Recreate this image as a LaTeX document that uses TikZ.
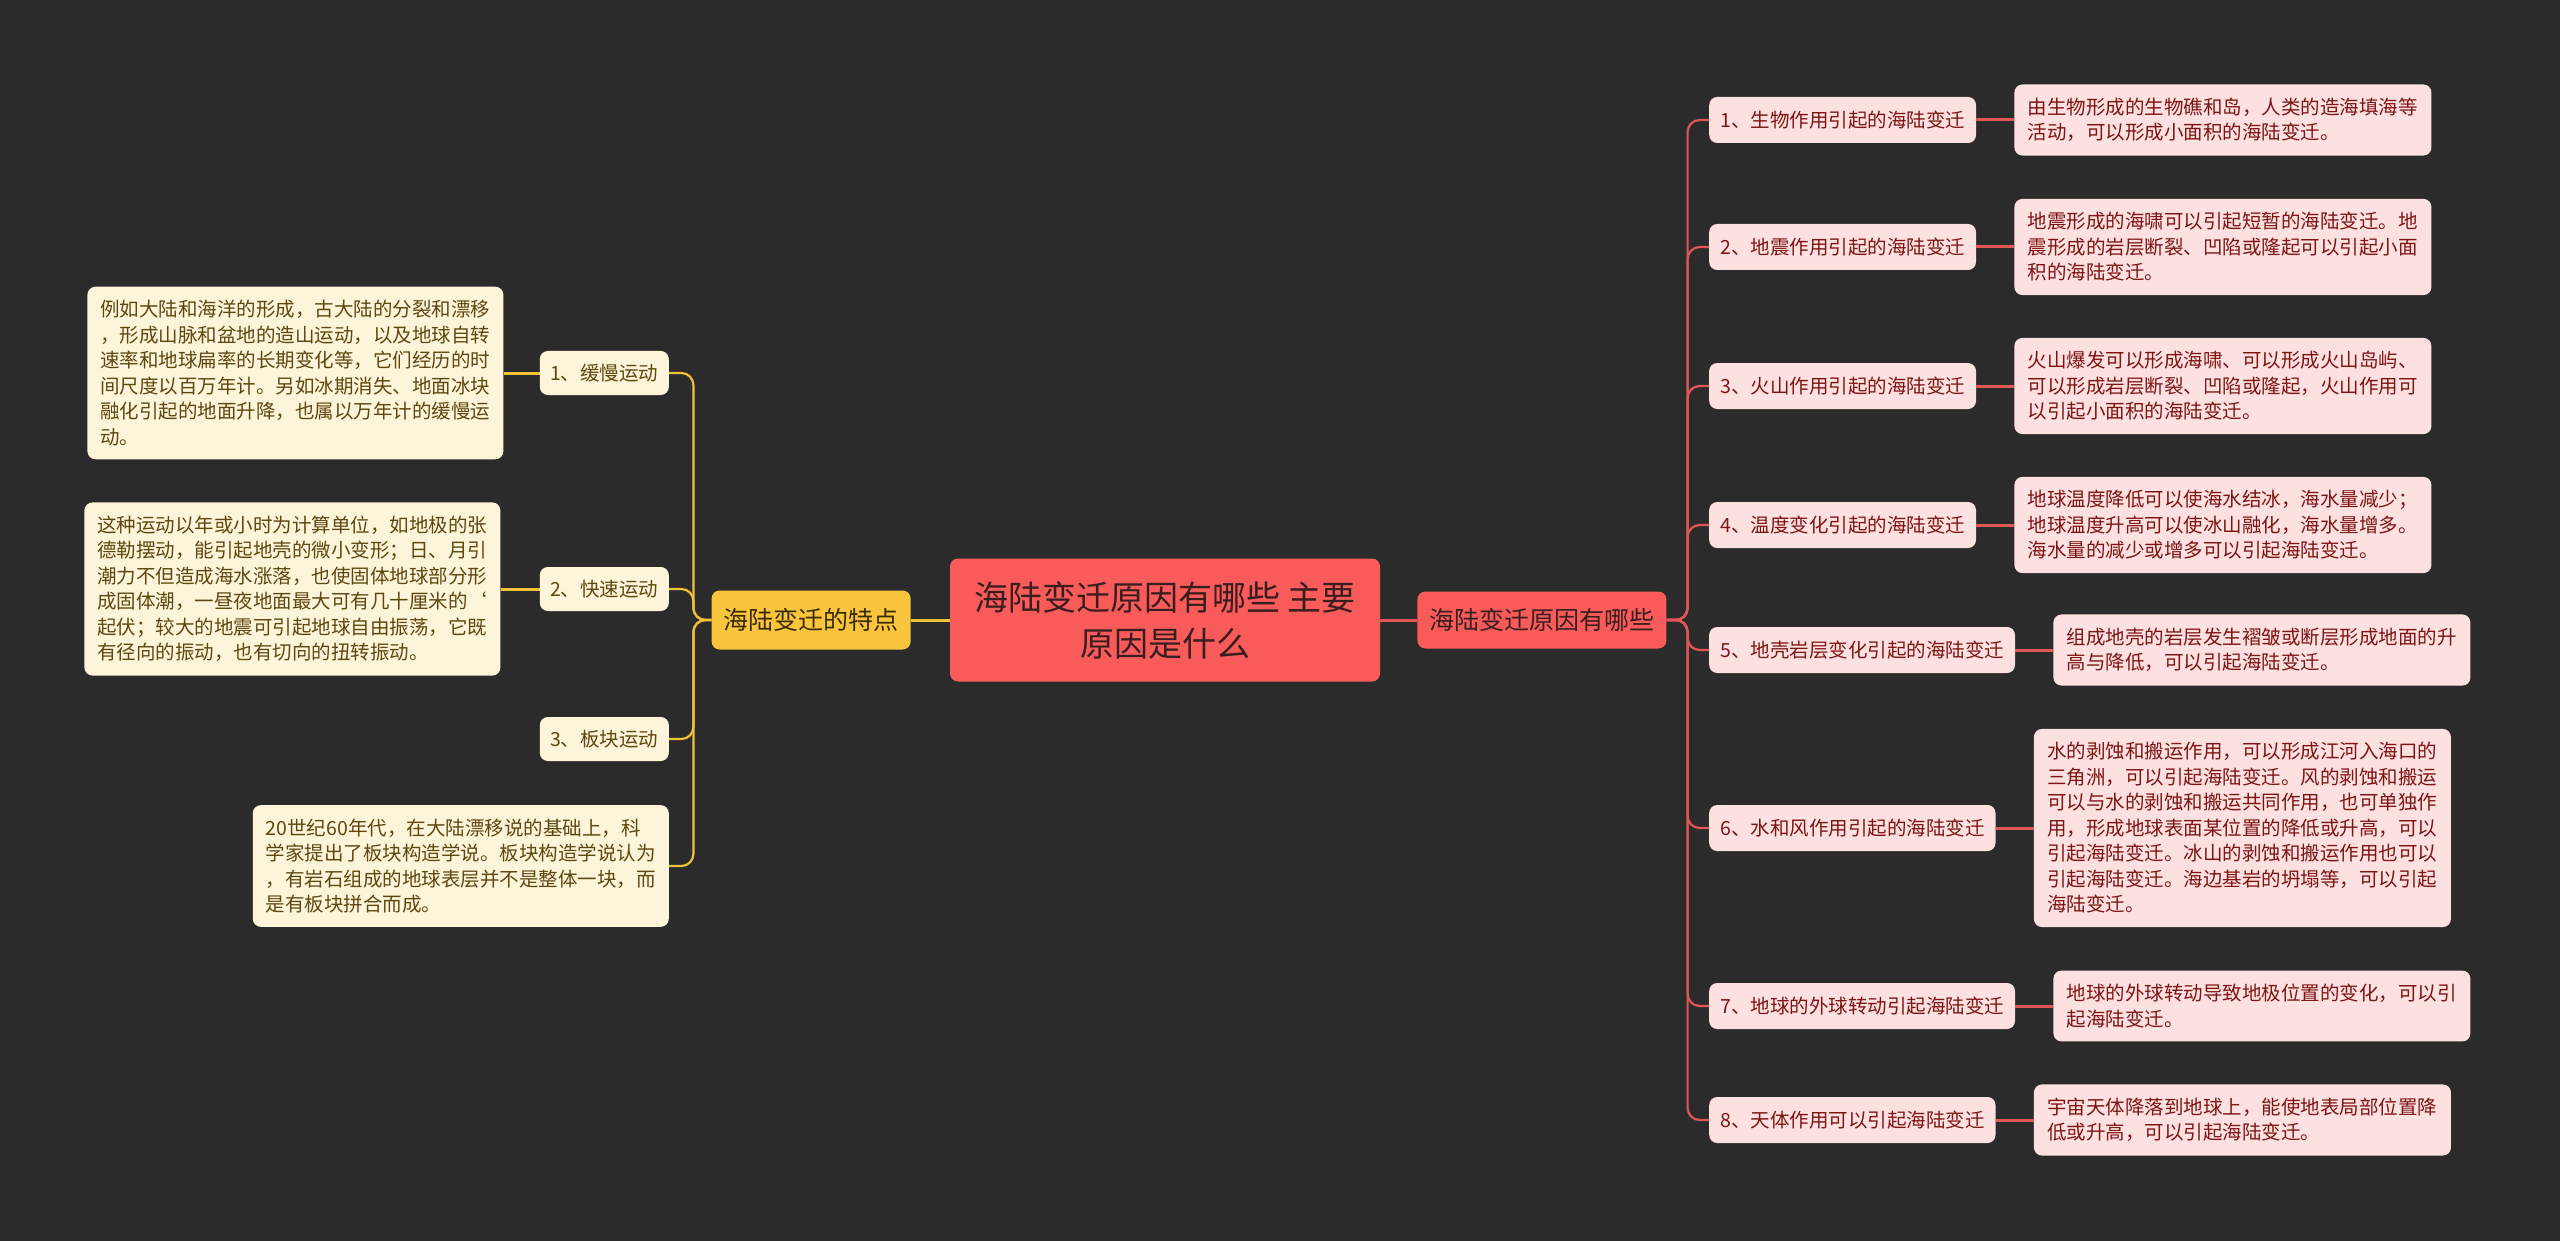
\documentclass[tikz,border=0pt]{standalone}
\usepackage{fontspec}
\setmainfont{Noto Sans CJK SC}
\usepackage{tikz}
\usetikzlibrary{positioning}
\definecolor{bgdark}{HTML}{2B2B2B}
\definecolor{rootred}{HTML}{F95B5B}
\definecolor{rootink}{HTML}{3A1E1E}
\definecolor{traitfill}{HTML}{F8C53C}
\definecolor{traitink}{HTML}{3A2A05}
\definecolor{creamfill}{HTML}{FDF5D9}
\definecolor{creamink}{HTML}{5E4710}
\definecolor{pinkfill}{HTML}{FDE1E1}
\definecolor{pinkink}{HTML}{7E1414}
\definecolor{redline}{HTML}{E35656}
\definecolor{yellowline}{HTML}{EFC23A}
\tikzstyle{root} = [rectangle, rounded corners = 8, fill = rootred,
  text = rootink, align = center, font = \fontsize{34}{46}\selectfont,
  minimum width = 430, minimum height = 123]
\tikzstyle{trait} = [rectangle, rounded corners = 8, fill = traitfill,
  text = traitink, font = \fontsize{25}{30}\selectfont,
  minimum height = 59, inner xsep = 12]
\tikzstyle{cause} = [rectangle, rounded corners = 8, fill = rootred,
  text = rootink, font = \fontsize{25}{30}\selectfont,
  minimum height = 57, inner xsep = 12]
\tikzstyle{sortL} = [rectangle, rounded corners = 8, fill = creamfill,
  text = creamink, font = \fontsize{19.5}{25.5}\selectfont,
  minimum height = 44, minimum width = 129]
\tikzstyle{sortR} = [rectangle, rounded corners = 8, fill = pinkfill,
  text = pinkink, font = \fontsize{19.5}{25.5}\selectfont,
  minimum height = 46, inner xsep = 11]
\tikzstyle{noteL} = [rectangle, rounded corners = 8, fill = creamfill,
  text = creamink, align = left, font = \fontsize{19.5}{25.5}\selectfont,
  minimum width = 416, inner ysep = 13.5]
\tikzstyle{noteR} = [rectangle, rounded corners = 8, fill = pinkfill,
  text = pinkink, align = left, font = \fontsize{19.5}{25.5}\selectfont,
  minimum width = 417, inner ysep = 13.5]
\tikzstyle{boughL} = [draw = yellowline, line width = 3]
\tikzstyle{boughR} = [draw = redline, line width = 3]
\tikzstyle{twigL} = [draw = yellowline, line width = 2.2, rounded corners = 12]
\tikzstyle{twigR} = [draw = redline, line width = 2.2, rounded corners = 12]

\begin{document}
\begin{tikzpicture}[x = 1pt, y = -1pt, node distance = 38]
    \fill [bgdark] (0, 0) rectangle (2560, 1241);
    \useasboundingbox (0, 0) rectangle (2560, 1241);
    \node [root] (root) at (1165, 620) {海陆变迁原因有哪些 主要\\原因是什么};
    \node [trait, left = 39 of root] (trait) {海陆变迁的特点};
    \node [cause, right = 37 of root] (cause) {海陆变迁原因有哪些};

    \node [sortL, anchor = east] (slow) at (669, 373) {1、缓慢运动};
    \node [sortL, anchor = east] (fast) at (669, 589) {2、快速运动};
    \node [sortL, anchor = east] (plate) at (669, 739) {3、板块运动};
    \node [noteL, left = 36 of slow] (slow-t) {例如大陆和海洋的形成，古大陆的分裂和漂移\\，形成山脉和盆地的造山运动，以及地球自转\\速率和地球扁率的长期变化等，它们经历的时\\间尺度以百万年计。另如冰期消失、地面冰块\\融化引起的地面升降，也属以万年计的缓慢运\\动。};
    \node [noteL, left = 39 of fast] (fast-t) {这种运动以年或小时为计算单位，如地极的张\\德勒摆动，能引起地壳的微小变形；日、月引\\潮力不但造成海水涨落，也使固体地球部分形\\成固体潮，一昼夜地面最大可有几十厘米的\symbol{96}\\起伏；较大的地震可引起地球自由振荡，它既\\有径向的振动，也有切向的扭转振动。};
    \node [noteL, anchor = east] (plate-t) at (669, 866) {20世纪60年代，在大陆漂移说的基础上，科\\学家提出了板块构造学说。板块构造学说认为\\，有岩石组成的地球表层并不是整体一块，而\\是有板块拼合而成。};

    \node [sortR, anchor = west] (c-1) at (1709, 120) {1、生物作用引起的海陆变迁};
    \node [sortR, anchor = west] (c-2) at (1709, 247) {2、地震作用引起的海陆变迁};
    \node [sortR, anchor = west] (c-3) at (1709, 386) {3、火山作用引起的海陆变迁};
    \node [sortR, anchor = west] (c-4) at (1709, 525) {4、温度变化引起的海陆变迁};
    \node [sortR, anchor = west] (c-5) at (1709, 650) {5、地壳岩层变化引起的海陆变迁};
    \node [sortR, anchor = west] (c-6) at (1709, 828) {6、水和风作用引起的海陆变迁};
    \node [sortR, anchor = west] (c-7) at (1709, 1006) {7、地球的外球转动引起海陆变迁};
    \node [sortR, anchor = west] (c-8) at (1709, 1120) {8、天体作用可以引起海陆变迁};
    \node [noteR, right = of c-1] (c-1-t) {由生物形成的生物礁和岛，人类的造海填海等\\活动，可以形成小面积的海陆变迁。};
    \node [noteR, right = of c-2] (c-2-t) {地震形成的海啸可以引起短暂的海陆变迁。地\\震形成的岩层断裂、凹陷或隆起可以引起小面\\积的海陆变迁。};
    \node [noteR, right = of c-3] (c-3-t) {火山爆发可以形成海啸、可以形成火山岛屿、\\可以形成岩层断裂、凹陷或隆起，火山作用可\\以引起小面积的海陆变迁。};
    \node [noteR, right = of c-4] (c-4-t) {地球温度降低可以使海水结冰，海水量减少；\\地球温度升高可以使冰山融化，海水量增多。\\海水量的减少或增多可以引起海陆变迁。};
    \node [noteR, right = of c-5] (c-5-t) {组成地壳的岩层发生褶皱或断层形成地面的升\\高与降低，可以引起海陆变迁。};
    \node [noteR, right = of c-6] (c-6-t) {水的剥蚀和搬运作用，可以形成江河入海口的\\三角洲，可以引起海陆变迁。风的剥蚀和搬运\\可以与水的剥蚀和搬运共同作用，也可单独作\\用，形成地球表面某位置的降低或升高，可以\\引起海陆变迁。冰山的剥蚀和搬运作用也可以\\引起海陆变迁。海边基岩的坍塌等，可以引起\\海陆变迁。};
    \node [noteR, right = of c-7] (c-7-t) {地球的外球转动导致地极位置的变化，可以引\\起海陆变迁。};
    \node [noteR, right = of c-8] (c-8-t) {宇宙天体降落到地球上，能使地表局部位置降\\低或升高，可以引起海陆变迁。};

    \draw [boughL] (root) -- (trait);
    \draw [boughR] (root) -- (cause);
    \draw [twigL] (trait.west) -- ++(-18, 0) |- (slow.east);
    \draw [twigL] (trait.west) -- ++(-18, 0) |- (fast.east);
    \draw [twigL] (trait.west) -- ++(-18, 0) |- (plate.east);
    \draw [twigL] (trait.west) -- ++(-18, 0) |- (plate-t.east);
    \draw [boughL] (slow) -- (slow-t);
    \draw [boughL] (fast) -- (fast-t);
    \foreach \k in {1, ..., 8} {
      \draw [twigR] (cause.east) -- ++(21, 0) |- (c-\k.west);
      \draw [boughR] (c-\k) -- (c-\k-t);
    }
\end{tikzpicture}
\end{document}
